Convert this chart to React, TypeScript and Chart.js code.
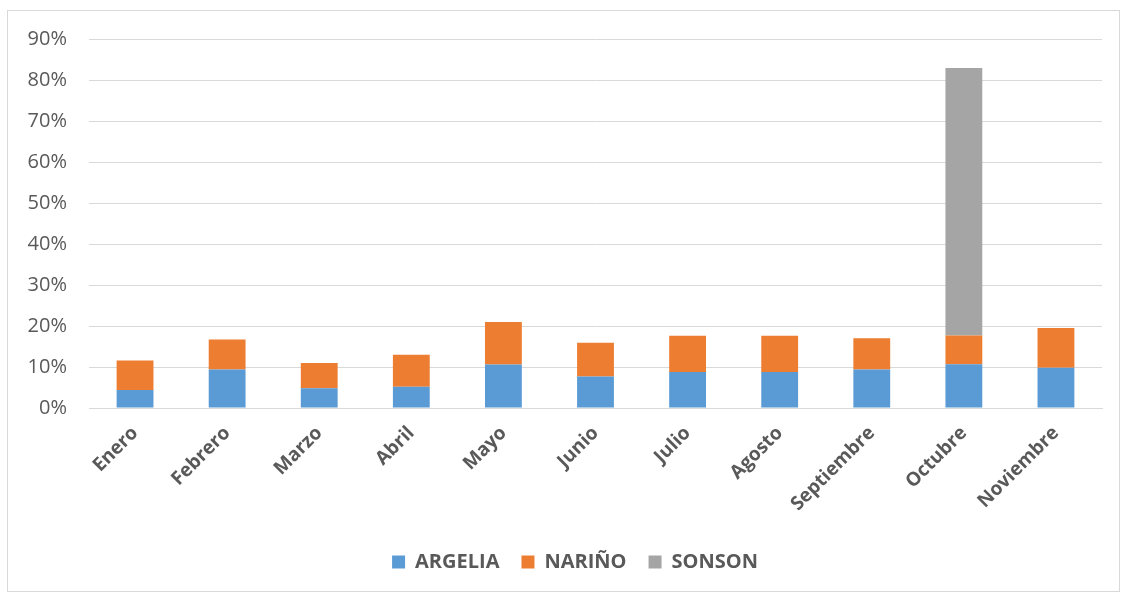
import React, { useEffect, useRef } from "react";
import { Chart, registerables } from "chart.js";

Chart.register(...registerables);

const months = ["Enero", "Febrero", "Marzo", "Abril", "Mayo", "Junio", "Julio", "Agosto", "Septiembre", "Octubre", "Noviembre"];
const argelia = [4.4, 9.4, 4.8, 5.2, 10.6, 7.7, 8.8, 8.8, 9.4, 10.7, 9.8];
const narino = [7.2, 7.3, 6.2, 7.8, 10.4, 8.2, 8.8, 8.8, 7.6, 7.0, 9.7];
const sonson = [0, 0, 0, 0, 0, 0, 0, 0, 0, 65.2, 0];
const yTicks = [0, 10, 20, 30, 40, 50, 60, 70, 80, 90];

const FONT = "'Open Sans', sans-serif";
const TEXT = "#595959";
const GRID = "#d9d9d9";

const shiftLegend = {
  id: "shiftLegend",
  afterUpdate(chart: any) {
    const lg = chart.legend;
    if (lg) {
      lg.left += 20;
      lg.right += 20;
    }
  },
};

export default function App() {
  const ref = useRef<HTMLCanvasElement>(null);
  useEffect(() => {
    if (!ref.current) return;
    const chart = new Chart(ref.current, {
      type: "bar",
      data: {
        labels: months,
        datasets: [
          { label: "ARGELIA", data: argelia, backgroundColor: "#5B9BD5" },
          { label: "NARIÑO", data: narino, backgroundColor: "#ED7D31" },
          { label: "SONSON", data: sonson, backgroundColor: "#A5A5A5" },
        ],
      },
      plugins: [shiftLegend],
      options: {
        animation: false,
        responsive: false,
        maintainAspectRatio: false,
        layout: { padding: { top: 28, right: 17, bottom: 9, left: 0 } },
        datasets: { bar: { categoryPercentage: 1, barPercentage: 0.4 } },
        plugins: {
          tooltip: { enabled: false },
          legend: {
            position: "bottom",
            labels: {
              color: TEXT,
              font: { family: FONT, size: 20, weight: "bold" },
              boxWidth: 13,
              boxHeight: 13,
              padding: 22,
            },
          },
        },
        scales: {
          x: {
            stacked: true,
            grid: { display: false },
            border: { color: GRID, width: 1 },
            ticks: {
              color: TEXT,
              font: { family: FONT, size: 19, weight: "bold" },
              maxRotation: 45,
              minRotation: 45,
              padding: 6,
            },
            afterFit: (s: any) => { s.height = 122; s.paddingLeft = 0; s.paddingRight = 0; },
          },
          y: {
            stacked: true,
            min: 0,
            max: 90,
            afterBuildTicks: (s: any) => { s.ticks = yTicks.map((v) => ({ value: v })); },
            grid: { color: GRID, lineWidth: 1, drawTicks: false },
            border: { display: false },
            ticks: {
              color: TEXT,
              font: { family: FONT, size: 20 },
              padding: 22,
              callback: (v: any) => v + "%",
            },
            afterFit: (s: any) => { s.width = 81; s.paddingTop = 0; s.paddingBottom = 0; },
          },
        },
      },
    });
    return () => chart.destroy();
  }, []);
  return (
    <div style={{ position: "absolute", left: 0, top: 0, width: 1121, height: 594, background: "#fff" }}>
      <div style={{ position: "absolute", left: 7, top: 10, width: 1111, height: 580, border: "1px solid #d9d9d9" }}>
        <canvas ref={ref} width={1111} height={580} style={{ display: "block" }} />
      </div>
    </div>
  );
}
